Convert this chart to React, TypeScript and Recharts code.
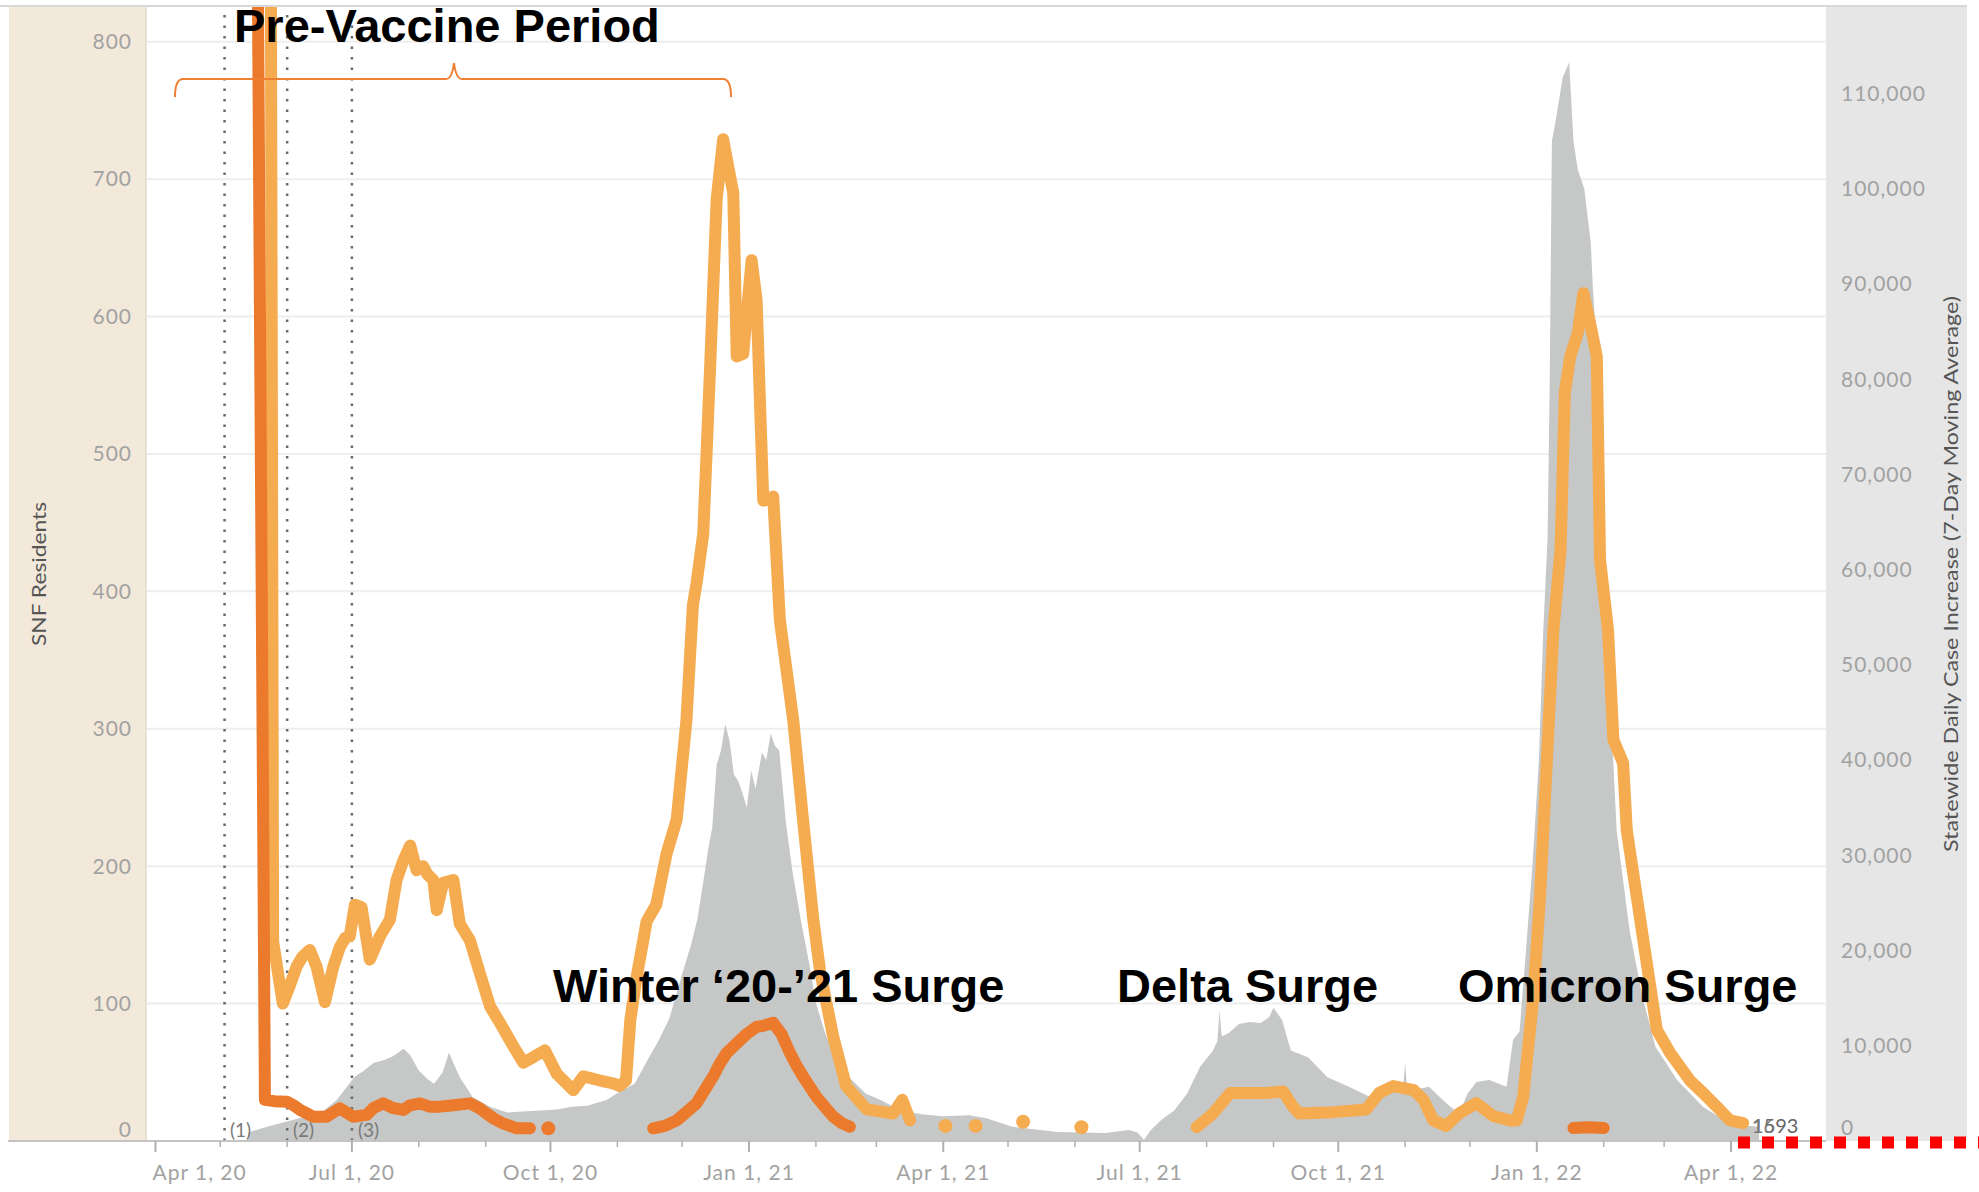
import React from 'react';
import { ComposedChart, Area, Line, XAxis, YAxis, CartesianGrid, ReferenceLine } from 'recharts';

// x values are days since Apr 1, 2020
const quarterTicks = [0, 91, 183, 275, 365, 456, 548, 640, 730];
const quarterLabels = ['Apr 1, 20', 'Jul 1, 20', 'Oct 1, 20', 'Jan 1, 21', 'Apr 1, 21', 'Jul 1, 21', 'Oct 1, 21', 'Jan 1, 22', 'Apr 1, 22'];
const monthTicks = [0, 30, 61, 91, 122, 153, 183, 214, 244, 275, 306, 334, 365, 395, 426, 456, 487, 518, 548, 579, 609, 640, 671, 699, 730, 760];
const leftTicks = [0, 100, 200, 300, 400, 500, 600, 700, 800];
const rightTicks = [0, 10000, 20000, 30000, 40000, 50000, 60000, 70000, 80000, 90000, 100000, 110000];
const markerDays = [32, 61, 91];
const markerLabels = ['(1)', '(2)', '(3)'];

// Statewide daily case increase (7-day moving average)
const caseDays = [43, 50, 60, 70, 78, 84, 88, 92, 96, 101, 106, 110, 115, 118, 122, 126, 129, 133, 136, 138, 141, 147, 155, 163, 170, 178, 186, 193, 200, 209, 216, 222, 228, 233, 238, 244, 248, 251, 254, 256, 258, 260, 262, 264, 266, 268, 270, 272, 274, 276, 278, 281, 283, 285, 287, 289, 292, 295, 299, 303, 306, 310, 314, 320, 329, 337, 345, 355, 365, 377, 385, 397, 408, 418, 430, 440, 451, 455, 458, 461, 466, 472, 478, 484, 490, 492, 493, 494, 497, 502, 507, 512, 516, 518, 522, 526, 534, 543, 553, 563, 570, 578, 579, 580, 590, 596, 600, 604, 608, 612, 618, 626, 629, 632, 635, 638, 641, 643, 645, 646, 647, 649, 652, 655, 657, 659, 662, 665, 666, 668, 671, 674, 677, 683, 689, 695, 705, 717, 729, 737, 743];
const caseValues = [900, 1400, 2000, 2600, 3200, 4300, 5500, 6700, 7300, 8200, 8500, 8900, 9700, 9000, 7400, 6500, 6000, 7200, 9300, 8200, 6700, 4600, 3600, 3000, 3100, 3200, 3300, 3600, 3700, 4300, 5300, 6000, 8500, 10500, 12800, 17500, 20500, 23200, 27500, 30500, 33000, 39500, 41000, 43800, 42000, 38500, 37800, 36500, 35000, 38900, 37000, 40800, 40000, 42800, 41500, 41000, 33600, 28500, 23200, 18500, 14500, 11500, 9200, 7000, 5000, 4200, 3200, 2800, 2600, 2700, 2400, 1500, 1200, 950, 900, 850, 1150, 900, 100, 1100, 2200, 3200, 5000, 7800, 9500, 10500, 13700, 11000, 11300, 12300, 12500, 12400, 13000, 14000, 12700, 9500, 8800, 6700, 5700, 4600, 5700, 5400, 8200, 5200, 5700, 4400, 3600, 2900, 5000, 6200, 6400, 5700, 10600, 11500, 20000, 29000, 40000, 53600, 63300, 80000, 105000, 107500, 111700, 113300, 105000, 102000, 100000, 94400, 89500, 82800, 60900, 46500, 32600, 22100, 15100, 9900, 6400, 3600, 1900, 1600, 1500];

// SNF residents, light orange series (null = no data)
const snfCaseDays = [52.5, 54.5, 59, 62, 65.4, 68, 71.5, 74.6, 78.5, 82.4, 85.4, 88, 90, 92.4, 95.5, 99.3, 104, 108.6, 111.7, 114.8, 118, 121, 124, 126, 128.7, 130.3, 133.3, 138, 141, 145.7, 150.3, 155, 159.6, 165.8, 170.4, 175, 180.4, 185.9, 193.6, 198.2, 206, 212, 215, 218, 220, 223, 227.6, 232, 236.8, 241.5, 246, 249, 250.7, 253.8, 257, 260, 263, 265.4, 267.7, 269.3, 272.3, 276.2, 278.5, 281.6, 286.2, 289.3, 295.5, 300, 304.8, 307.9, 314, 320, 329.5, 341.8, 346, 349.6, 357, 366, 373, 380, 391, 402, 415, 429, 455, 482.4, 490, 498, 507, 515, 522.5, 527, 530, 545.7, 561, 567, 573.5, 583, 587.5, 592, 598, 604, 612, 620, 627.6, 630.7, 633.7, 638.4, 641.5, 644.6, 647.7, 651, 653, 655.5, 659, 661.6, 664.7, 667.8, 669.3, 673, 675.5, 680, 681.7, 686.3, 691, 695.6, 701.8, 711, 717, 723.4, 729.5, 735.6];
const snfCaseValues = [1500, 145, 100, 112, 127, 134, 139, 127, 101, 127, 141, 148, 149, 172, 170, 132, 149, 161, 190, 204, 215, 197, 200, 194, 190, 168, 188, 190, 158, 146, 122, 98, 86, 69, 57, 61, 66, 49, 37, 47, 44, 42, 40, 44, 88, 120, 160, 172, 209, 234, 306, 390, 406, 442, 564, 685, 729, 709, 690, 571, 573, 641, 612, 466, 469, 379, 306, 234, 161, 124, 76, 40, 23, 20, 30, 15, null, 11, null, 11, null, 14, null, 10, null, 10, 20, 35, 35, 35, 36, 25, 20, 21, 23, 35, 40, 37, 30, 15, 11, 20, 27.5, 18, 15, 15, 32, 105, 178, 275, 372, 430, 545, 571, 588, 617, 595, 571, 423, 372, 292, 275, 226, 178, 129, 81, 64, 44, 35, 25, 15, 13];

// SNF residents, dark orange series (null = no data)
const snfDeathDays = [46, 50.7, 55, 60.8, 64, 67, 73, 79.3, 85.4, 91.6, 97.8, 101, 105.5, 110, 114.8, 118, 122.5, 127, 131.8, 138, 145.7, 150, 153.4, 157, 161, 167.3, 173.5, 178, 182, 200, 230.6, 236, 241.5, 246, 250.7, 254, 258.4, 261, 264.6, 269.3, 274, 278.5, 282, 286.2, 290, 294, 297, 300, 306.3, 310, 314, 318, 321.7, 500, 657, 664, 671];
const snfDeathValues = [1200, 30, 29, 28.6, 26, 22.6, 17.7, 17.7, 23.8, 17.7, 19, 24, 27.4, 24, 22.6, 26, 27.4, 25, 25, 26, 27.4, 24, 20, 16, 12.8, 9.2, 9.2, null, 9.2, null, 9.2, 11, 15, 21, 27.5, 36, 47, 55, 64, 71, 78, 83, 84, 86, 78, 64, 55, 47, 32, 25, 17.7, 13, 10.4, null, 9.5, 10, 9.5];

const caseData = caseDays.map((d, i) => ({ d, v: caseValues[i] }));
const snfCaseData = snfCaseDays.map((d, i) => ({ d, v: snfCaseValues[i] }));
const snfDeathData = snfDeathDays.map((d, i) => ({ d, v: snfDeathValues[i] }));

const LIGHT = '#F5AB50';
const DARK = '#EB7A2C';
const GREY = '#C6C7C7';
const TICK_FONT = 'Lato, "Noto Sans", sans-serif';
const BOLD_FONT = '"Liberation Sans", Arial, sans-serif';

const makeDot = (data: { d: number; v: number | null }[], color: string) => (props: any) => {
  const { cx, cy, index } = props;
  const cur = data[index];
  if (cx == null || cy == null || !cur || cur.v == null) return <g key={`n${index}`} />;
  const prev = data[index - 1];
  const next = data[index + 1];
  const isolated = (!prev || prev.v == null) && (!next || next.v == null);
  if (!isolated) return <g key={`n${index}`} />;
  return <circle key={`c${index}`} cx={cx} cy={cy} r={7} fill={color} />;
};

const XTick = (props: any) => {
  const { x, y, payload } = props;
  const qi = quarterTicks.indexOf(payload.value);
  const major = qi >= 0;
  return (
    <g>
      <line x1={x} x2={x} y1={y} y2={y + (major ? 11 : 6)} stroke="#b0b0b0" strokeWidth={major ? 2 : 1.5} />
      {major && (
        <text x={qi === 0 ? x - 3 : x} y={y + 39} textAnchor={qi === 0 ? 'start' : 'middle'} fill="#a2a2a2" fontSize={21} fontFamily={TICK_FONT} letterSpacing={1}>
          {quarterLabels[qi]}
        </text>
      )}
    </g>
  );
};

const LeftTick = (props: any) => {
  const { x, y, payload } = props;
  return (
    <text x={x} y={payload.value === 0 ? y - 11 : y} dy="0.35em" textAnchor="end" fill="#a2a2a2" fontSize={21} fontFamily={TICK_FONT} letterSpacing={1}>
      {payload.value}
    </text>
  );
};

const RightTick = (props: any) => {
  const { x, y, payload } = props;
  return (
    <text x={x} y={payload.value === 0 ? y - 13 : y} dy="0.35em" textAnchor="start" fill="#a2a2a2" fontSize={21} fontFamily={TICK_FONT} letterSpacing={1}>
      {Number(payload.value).toLocaleString('en-US')}
    </text>
  );
};

export default function App() {
  return (
    <div style={{ position: 'relative', width: 1979, height: 1192, background: '#fff', overflow: 'hidden' }}>
      <style>{'body{margin:0}'}</style>
      <div style={{ position: 'absolute', left: 9, top: 6, width: 137, height: 1135, background: '#F3E9DA' }} />
      <div style={{ position: 'absolute', left: 1826, top: 6, width: 141, height: 1135, background: '#E6E6E6' }} />
      <div style={{ position: 'absolute', left: 0, top: 0 }}>
        <ComposedChart width={1979} height={1192} margin={{ top: 6, right: 0, bottom: 0, left: 0 }}>
          <CartesianGrid vertical={false} stroke="#eeeeee" strokeWidth={2} />
          <XAxis
            dataKey="d"
            type="number"
            domain={[-4.4, 774]}
            allowDataOverflow
            ticks={monthTicks}
            interval={0}
            height={51}
            tickSize={0}
            tickMargin={0}
            tickLine={false}
            axisLine={{ stroke: '#c4c4c4', strokeWidth: 2 }}
            tick={<XTick />}
          />
          <YAxis
            type="number"
            domain={[0, 826]}
            allowDataOverflow
            ticks={leftTicks}
            interval={0}
            width={146}
            tickSize={0}
            tickMargin={14}
            tickLine={false}
            axisLine={false}
            tick={<LeftTick />}
          />
          <YAxis
            yAxisId="right"
            orientation="right"
            type="number"
            domain={[0, 119200]}
            allowDataOverflow
            ticks={rightTicks}
            interval={0}
            width={153}
            tickSize={0}
            tickMargin={15}
            tickLine={false}
            axisLine={false}
            tick={<RightTick />}
          />
          <Area
            yAxisId="right"
            data={caseData}
            dataKey="v"
            type="linear"
            stroke="none"
            fill={GREY}
            fillOpacity={1}
            isAnimationActive={false}
            activeDot={false}
          />
          {markerDays.map((d) => (
            <ReferenceLine key={d} x={d} stroke="#6a6a6a" strokeWidth={2.5} strokeDasharray="2.5 8" />
          ))}
          <Line
            data={snfCaseData}
            dataKey="v"
            type="linear"
            stroke={LIGHT}
            strokeWidth={12}
            strokeLinejoin="round"
            strokeLinecap="round"
            dot={makeDot(snfCaseData, LIGHT)}
            activeDot={false}
            isAnimationActive={false}
          />
          <Line
            data={snfDeathData}
            dataKey="v"
            type="linear"
            stroke={DARK}
            strokeWidth={12}
            strokeLinejoin="round"
            strokeLinecap="round"
            dot={makeDot(snfDeathData, DARK)}
            activeDot={false}
            isAnimationActive={false}
          />
        </ComposedChart>
      </div>
      <svg width={1979} height={1192} style={{ position: 'absolute', left: 0, top: 0, pointerEvents: 'none' }}>
        <line x1={0} x2={1967} y1={6} y2={6} stroke="#d8d8d8" strokeWidth={2} />
        <line x1={146} x2={146} y1={6} y2={1141} stroke="#e3dccf" strokeWidth={1.5} />
        <line x1={8} x2={146} y1={1141} y2={1141} stroke="#c4c4c4" strokeWidth={2} />
        <text x={38} y={574} transform="rotate(-90 38 574)" textAnchor="middle" dominantBaseline="central" fill="#555" fontSize={19} fontFamily={TICK_FONT} textLength={144} lengthAdjust="spacingAndGlyphs">
          SNF Residents
        </text>
        <text x={1950} y={574} transform="rotate(-90 1950 574)" textAnchor="middle" dominantBaseline="central" fill="#555" fontSize={19} fontFamily={TICK_FONT} textLength={556} lengthAdjust="spacingAndGlyphs">
          Statewide Daily Case Increase (7-Day Moving Average)
        </text>
        {markerLabels.map((t, i) => (
          <text key={t} x={[230, 293, 358][i]} y={1137} fill="#7a7a7a" fontSize={19} fontFamily={TICK_FONT}>
            {t}
          </text>
        ))}
        <path d="M175,97 Q175,79 183,79 L446,79 Q452,79 454,63 Q456,79 462,79 L723,79 Q731,79 731,97" fill="none" stroke="#EF7F31" strokeWidth={2} />
        <text x={234} y={42} fontSize={47} fontWeight="bold" fontFamily={BOLD_FONT} fill="#000">Pre-Vaccine Period</text>
        <text x={553} y={1002} fontSize={47} fontWeight="bold" fontFamily={BOLD_FONT} fill="#000">Winter ‘20-’21 Surge</text>
        <text x={1117} y={1002} fontSize={47} fontWeight="bold" fontFamily={BOLD_FONT} fill="#000">Delta Surge</text>
        <text x={1458} y={1002} fontSize={47} fontWeight="bold" fontFamily={BOLD_FONT} fill="#000">Omicron Surge</text>
        <text x={1752} y={1133} fontSize={20} fontFamily={TICK_FONT} fill="#666">1593</text>
        <text x={1752} y={1133} fontSize={20} fontFamily={TICK_FONT} fill="#777">16</text>
        <line x1={1738} x2={1979} y1={1142.5} y2={1142.5} stroke="#ff0000" strokeWidth={12} strokeDasharray="12 12" />
      </svg>
    </div>
  );
}
